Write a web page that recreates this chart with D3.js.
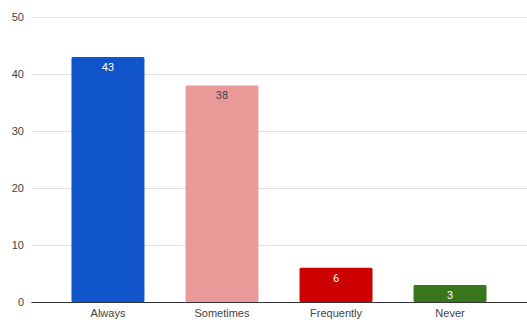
<!DOCTYPE html>
<html>
<head>
<meta charset="utf-8">
<script src="https://cdn.jsdelivr.net/npm/d3@7"></script>
<style>
  html, body { margin: 0; padding: 0; background: #fff; }
  svg { display: block; font-family: Roboto, "Liberation Sans", Arial, sans-serif; }
</style>
</head>
<body>
<svg id="chart" width="527" height="323"></svg>
<script>
const categories = ["Always", "Sometimes", "Frequently", "Never"];
const values = [43, 38, 6, 3];
const barColors = ["#1155cc", "#ea9999", "#cc0000", "#38761d"];
const labelColors = ["#ffffff", "#444444", "#ffffff", "#ffffff"];
const yTicks = [0, 10, 20, 30, 40, 50];

const svg = d3.select("#chart");
const margin = { left: 31, right: 0, top: 17, bottom: 21 };
const W = 527, H = 323;

const x = d3.scaleBand()
  .domain(categories)
  .range([margin.left, W - margin.right])
  .paddingInner(0.36)
  .paddingOuter(0.355);

const y = d3.scaleLinear()
  .domain([0, 50])
  .range([H - margin.bottom, margin.top]);

// gridlines and y tick labels
const yAxis = d3.axisLeft(y)
  .tickValues(yTicks)
  .tickSize(-(W - margin.left - margin.right))
  .tickPadding(7)
  .tickFormat(d3.format("d"));

const gy = svg.append("g")
  .attr("transform", `translate(${margin.left},0)`)
  .call(yAxis);
gy.select(".domain").remove();
gy.selectAll(".tick line").attr("stroke", "#e0e0e0").attr("stroke-width", 1);
gy.selectAll(".tick text")
  .attr("fill", "#444")
  .attr("font-size", 11);

// bars
svg.append("g").selectAll("rect")
  .data(values)
  .join("rect")
  .attr("x", (d, i) => x(categories[i]))
  .attr("y", d => y(d))
  .attr("width", x.bandwidth())
  .attr("height", d => y(0) - y(d))
  .attr("rx", 1.5)
  .attr("fill", (d, i) => barColors[i]);

// value labels inside bar tops
svg.append("g").selectAll("text")
  .data(values)
  .join("text")
  .attr("x", (d, i) => x(categories[i]) + x.bandwidth() / 2)
  .attr("y", d => y(d) + 14)
  .attr("text-anchor", "middle")
  .attr("font-size", 11)
  .attr("fill", (d, i) => labelColors[i])
  .text(d => d);

// baseline and category labels
const xAxis = d3.axisBottom(x).tickSize(0).tickPadding(7);
const gx = svg.append("g")
  .attr("transform", `translate(0,${y(0)})`)
  .call(xAxis);
gx.select(".domain").attr("stroke", "#333").attr("stroke-width", 1);
gx.selectAll(".tick text").attr("fill", "#444").attr("font-size", 11);
</script>
</body>
</html>
